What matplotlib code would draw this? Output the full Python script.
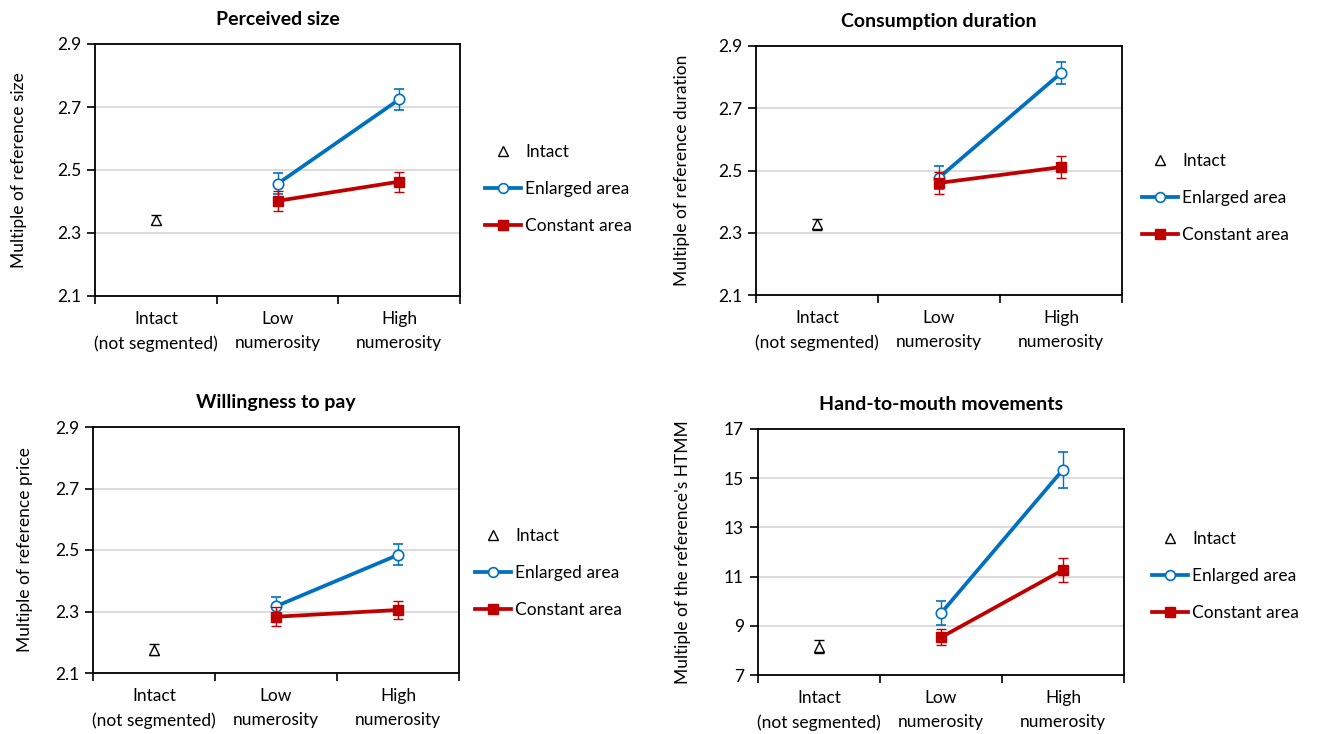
import matplotlib
matplotlib.use('Agg')
import matplotlib.pyplot as plt
from matplotlib.lines import Line2D

plt.rcParams['font.family'] = ['Lato', 'DejaVu Sans']

# --- dane ---
categories = ['Intact\n(not segmented)', 'Low\nnumerosity', 'High\nnumerosity']

titles = ['Perceived size', 'Consumption duration', 'Willingness to pay', 'Hand-to-mouth movements']
ylabels = ['Multiple of reference size', 'Multiple of reference duration',
           'Multiple of reference price', "Multiple of the reference's HTMM"]

intact_mean = [2.342, 2.327, 2.176, 8.15]
intact_err = [0.015, 0.017, 0.017, 0.27]

enlarged_mean = [[2.456, 2.724], [2.477, 2.813], [2.317, 2.484], [9.51, 15.35]]
enlarged_err = [[0.033, 0.033], [0.036, 0.036], [0.031, 0.034], [0.48, 0.73]]

constant_mean = [[2.402, 2.463], [2.460, 2.511], [2.283, 2.305], [8.53, 11.27]]
constant_err = [[0.032, 0.032], [0.034, 0.034], [0.031, 0.030], [0.33, 0.50]]

yticks_small = [2.1, 2.3, 2.5, 2.7, 2.9]
yticks_htmm = [7, 9, 11, 13, 15, 17]

BLUE = '#0070C0'
RED = '#C00000'

W, H = 1317, 734
fig = plt.figure(figsize=(W / 100, H / 100), dpi=100)

# pozycje osi w pikselach: (lewo, prawo, góra, dół)
boxes = [(95, 460, 44, 296), (756, 1122, 46, 295), (93, 459, 427, 673), (758, 1124, 429, 675)]
# lewy brzeg uchwytu legendy i środek pierwszego wiersza
legend_pos = [(485, 153), (1142, 162), (475, 537), (1152, 540)]
# prawa krawędź obróconego opisu osi Y
ylabel_x = [27, 690, 33, 691]

for i in range(4):
    l, r, t, b = boxes[i]
    ax = fig.add_axes([l / W, 1 - b / H, (r - l) / W, (b - t) / H])

    ax.errorbar([0], [intact_mean[i]], yerr=[intact_err[i]], fmt='^', color='black',
                mfc='white', mec='black', ms=6.5, mew=1.0, ecolor='black', elinewidth=1,
                capsize=3.5, capthick=1, zorder=3)
    ax.errorbar([1, 2], enlarged_mean[i], yerr=enlarged_err[i], fmt='-o', color=BLUE,
                lw=2.7, mfc='white', mec=BLUE, ms=7.5, mew=1.2, ecolor=BLUE, elinewidth=1,
                capsize=3.5, capthick=1, zorder=4)
    ax.errorbar([1, 2], constant_mean[i], yerr=constant_err[i], fmt='-s', color=RED,
                lw=2.7, mfc=RED, mec=RED, ms=7.5, ecolor=RED, elinewidth=1,
                capsize=3.5, capthick=1, zorder=5)

    ax.set_xlim(-0.5, 2.5)
    if i == 3:
        ax.set_ylim(7, 17)
        ax.set_yticks(yticks_htmm)
    else:
        ax.set_ylim(2.1, 2.9)
        ax.set_yticks(yticks_small)
        ax.set_yticklabels(['%.1f' % v for v in yticks_small])

    ax.set_xticks([-0.5, 0.5, 1.5, 2.5])
    ax.set_xticklabels([])
    ax.set_xticks([0, 1, 2], minor=True)
    ax.set_xticklabels(categories, minor=True, fontsize=12.5, linespacing=1.6)
    ax.tick_params(axis='x', which='major', direction='out', length=6, width=1.2)
    ax.tick_params(axis='x', which='minor', length=0, pad=11)
    ax.tick_params(axis='y', direction='out', length=6, width=1.2, labelsize=12.5, pad=4)

    ax.yaxis.grid(True, color='#D9D9D9', lw=1.3)
    ax.set_axisbelow(True)
    for s in ax.spines.values():
        s.set_linewidth(1.3)

    ax.set_title(titles[i], fontsize=14, fontweight='bold', pad=14)
    ax.set_ylabel(ylabels[i], fontsize=12.5)
    ax.yaxis.set_label_coords((ylabel_x[i] - l) / (r - l), 0.5)

    handles = [
        Line2D([], [], ls='none', marker='^', mfc='white', mec='black', ms=6.5, mew=1.0),
        Line2D([], [], color=BLUE, lw=2.7, marker='o', mfc='white', mec=BLUE, ms=7, mew=1.2),
        Line2D([], [], color=RED, lw=2.7, marker='s', mfc=RED, mec=RED, ms=7),
    ]
    lx, ly = legend_pos[i]
    fig.legend(handles, ['Intact', 'Enlarged area', 'Constant area'],
               loc='upper left', bbox_to_anchor=(lx / W, 1 - (ly - 9) / H),
               frameon=False, fontsize=12.5, handlelength=2.1, handletextpad=0.2,
               labelspacing=1.2, borderpad=0, borderaxespad=0)

fig.savefig('out.png', dpi=100)
